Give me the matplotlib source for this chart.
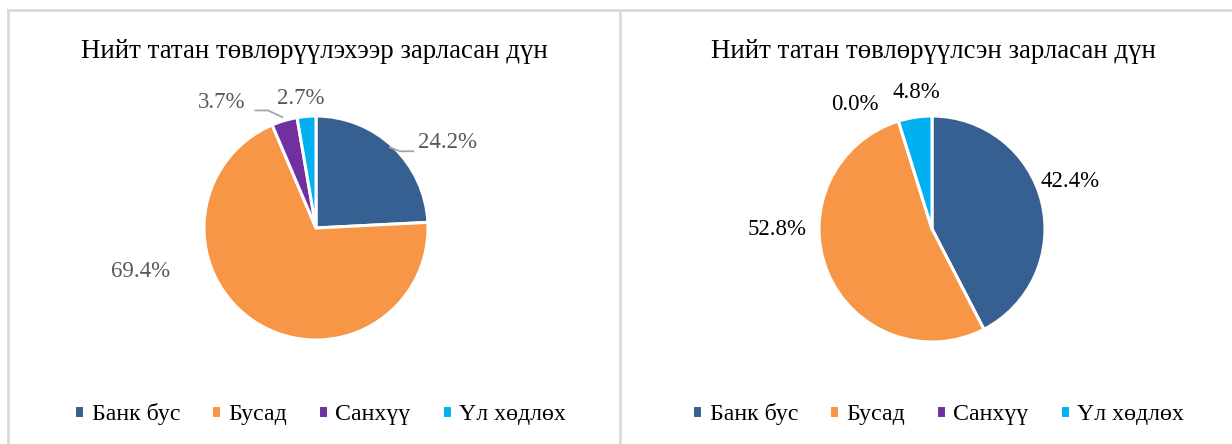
import matplotlib.pyplot as plt
from matplotlib.lines import Line2D

plt.rcParams['font.family'] = ['Liberation Serif', 'DejaVu Serif']

categories = ['Банк бус', 'Бусад', 'Санхүү', 'Үл хөдлөх']
announced = [24.2, 69.4, 3.7, 2.7]      # зарласан
raised = [42.4, 52.8, 0.0, 4.8]         # төвлөрүүлсэн
title_left = 'Нийт татан төвлөрүүлэхээр зарласан дүн'
title_right = 'Нийт татан төвлөрүүлсэн зарласан дүн'

colors = ['#376092', '#F79646', '#7030A0', '#00B0F0']

W, H = 1232, 444
fig = plt.figure(figsize=(W / 100, H / 100), dpi=100)


def px_axes(x, y, w, h):
    # pixel box (top-left origin) -> figure fraction
    return fig.add_axes([x / W, 1 - (y + h) / H, w / W, h / H])


def draw_pie(ax, vals, label_xy, txt_color):
    wedges, _ = ax.pie(vals, colors=colors, startangle=90, counterclock=False,
                       wedgeprops=dict(edgecolor='white', linewidth=2.2))
    ax.set_xlim(-1, 1)
    ax.set_ylim(-1, 1)
    ax.set_aspect('auto')
    ax.axis('off')
    for v, (lx, ly) in zip(vals, label_xy):
        ax.text(lx, ly, f'{v:.1f}%', ha='center', va='center',
                fontsize=16.5, color=txt_color)
    return wedges


# left pie
ax1 = px_axes(204, 116, 224, 224)
w1 = draw_pie(ax1, announced,
              [(1.17, 0.76), (-1.57, -0.39), (-0.84, 1.12), (-0.14, 1.16)],
              '#595959')
# leader lines
ax1.plot([0.66, 0.75, 0.87], [0.72, 0.685, 0.685], color='#A6A6A6', lw=1.3,
         clip_on=False)
ax1.plot([-0.54, -0.43, -0.30], [1.05, 1.05, 0.99], color='#A6A6A6', lw=1.3,
         clip_on=False)

# right pie
ax2 = px_axes(819, 116, 226, 226)
w2 = draw_pie(ax2, raised,
              [(1.22, 0.42), (-1.37, 0.0), (-0.68, 1.10), (-0.14, 1.21)],
              '#000000')

fig.text(314 / W, 1 - 51 / H, title_left, ha='center', va='center', fontsize=19.4)
fig.text(933 / W, 1 - 51 / H, title_right, ha='center', va='center', fontsize=19.4)

for wedges, cx in [(w1, 320), (w2, 938)]:
    fig.legend(wedges, categories, loc='center', bbox_to_anchor=(cx / W, 1 - 414 / H),
               ncol=4, frameon=False, fontsize=17.2, handlelength=0.42,
               handleheight=0.42, handletextpad=0.3, columnspacing=1.3,
               borderaxespad=0)

# panel borders
bc = '#D9D9D9'
fig.add_artist(Line2D([8 / W, 1], [1 - 10.5 / H] * 2, color=bc, lw=2))
fig.add_artist(Line2D([8 / W] * 2, [0, 1 - 10.5 / H], color=bc, lw=2))
fig.add_artist(Line2D([620 / W] * 2, [0, 1 - 10.5 / H], color=bc, lw=2))

fig.savefig('out.png', dpi=100, facecolor='white')
